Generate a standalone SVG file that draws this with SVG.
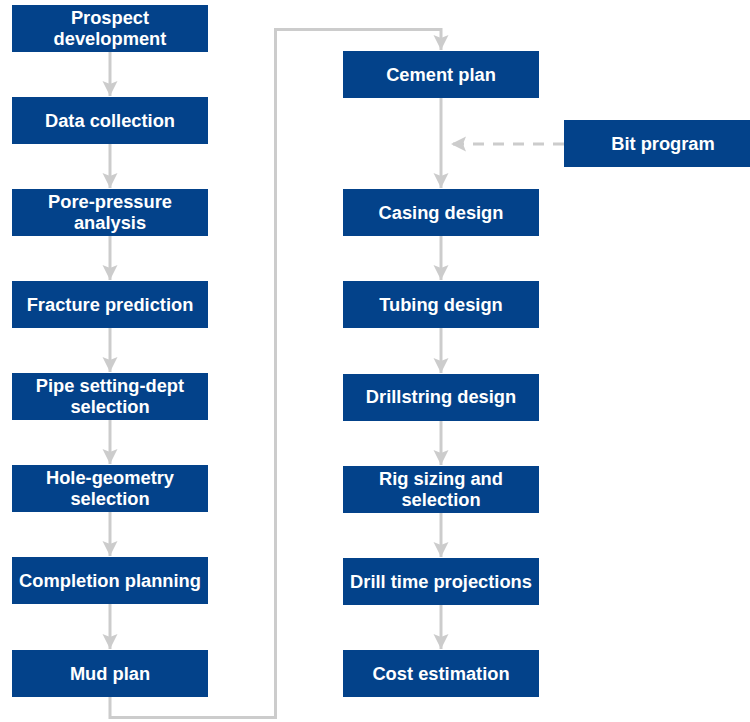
<svg xmlns="http://www.w3.org/2000/svg" width="750" height="722" viewBox="0 0 750 722">
<defs>
<marker id="ah" markerUnits="userSpaceOnUse" markerWidth="16" markerHeight="16" viewBox="0 0 16 16" refX="15" refY="8" orient="auto">
<path d="M0,0.5 L15,8 L0,15.5 L3,8 z" fill="#cccccc"/>
</marker>
<style>
.box{fill:#03428a}
.t{fill:#ffffff;font-family:"Liberation Sans",Arial,Helvetica,sans-serif;font-weight:bold;font-size:18.3px;text-anchor:middle}
.c{fill:none;stroke:#cccccc;stroke-width:3}
.d{stroke-dasharray:11 9}
</style>
</defs>
<rect width="750" height="722" fill="#ffffff"/>
<g id="connectors">
<path class="c" d="M110,52 V96" marker-end="url(#ah)"/>
<path class="c" d="M110,144 V188" marker-end="url(#ah)"/>
<path class="c" d="M110,236 V280" marker-end="url(#ah)"/>
<path class="c" d="M110,328 V372" marker-end="url(#ah)"/>
<path class="c" d="M110,420 V464" marker-end="url(#ah)"/>
<path class="c" d="M110,512 V556" marker-end="url(#ah)"/>
<path class="c" d="M110,604 V649" marker-end="url(#ah)"/>
<path class="c" d="M110,697 V717.5 H275.5 V29.5 H441 V50" marker-end="url(#ah)"/>
<path class="c" d="M441,98 V188" marker-end="url(#ah)"/>
<path class="c d" d="M564,144 H451" marker-end="url(#ah)"/>
<path class="c" d="M441,236 V280" marker-end="url(#ah)"/>
<path class="c" d="M441,328 V373" marker-end="url(#ah)"/>
<path class="c" d="M441,421 V465" marker-end="url(#ah)"/>
<path class="c" d="M441,513 V557" marker-end="url(#ah)"/>
<path class="c" d="M441,605 V649" marker-end="url(#ah)"/>
</g>
<g id="prospect"><rect class="box" x="12" y="5" width="196" height="47"/><text class="t" x="110" y="24">Prospect</text><text class="t" x="110" y="45">development</text></g>
<g id="data"><rect class="box" x="12" y="97" width="196" height="47"/><text class="t" x="110" y="127">Data collection</text></g>
<g id="pore"><rect class="box" x="12" y="189" width="196" height="47"/><text class="t" x="110" y="208">Pore-pressure</text><text class="t" x="110" y="229">analysis</text></g>
<g id="fracture"><rect class="box" x="12" y="281" width="196" height="47"/><text class="t" x="110" y="311">Fracture prediction</text></g>
<g id="pipe"><rect class="box" x="12" y="373" width="196" height="47"/><text class="t" x="110" y="392">Pipe setting-dept</text><text class="t" x="110" y="413">selection</text></g>
<g id="hole"><rect class="box" x="12" y="465" width="196" height="47"/><text class="t" x="110" y="484">Hole-geometry</text><text class="t" x="110" y="505">selection</text></g>
<g id="completion"><rect class="box" x="12" y="557" width="196" height="47"/><text class="t" x="110" y="587">Completion planning</text></g>
<g id="mud"><rect class="box" x="12" y="650" width="196" height="47"/><text class="t" x="110" y="680">Mud plan</text></g>
<g id="cement"><rect class="box" x="343" y="51" width="196" height="47"/><text class="t" x="441" y="81">Cement plan</text></g>
<g id="bit"><rect class="box" x="564" y="120" width="186" height="47"/><text class="t" x="663" y="150">Bit program</text></g>
<g id="casing"><rect class="box" x="343" y="189" width="196" height="47"/><text class="t" x="441" y="219">Casing design</text></g>
<g id="tubing"><rect class="box" x="343" y="281" width="196" height="47"/><text class="t" x="441" y="311">Tubing design</text></g>
<g id="drillstring"><rect class="box" x="343" y="374" width="196" height="47"/><text class="t" x="441" y="403">Drillstring design</text></g>
<g id="rig"><rect class="box" x="343" y="466" width="196" height="47"/><text class="t" x="441" y="485">Rig sizing and</text><text class="t" x="441" y="506">selection</text></g>
<g id="drilltime"><rect class="box" x="343" y="558" width="196" height="47"/><text class="t" x="441" y="588">Drill time projections</text></g>
<g id="cost"><rect class="box" x="343" y="650" width="196" height="47"/><text class="t" x="441" y="680">Cost estimation</text></g>
</svg>
